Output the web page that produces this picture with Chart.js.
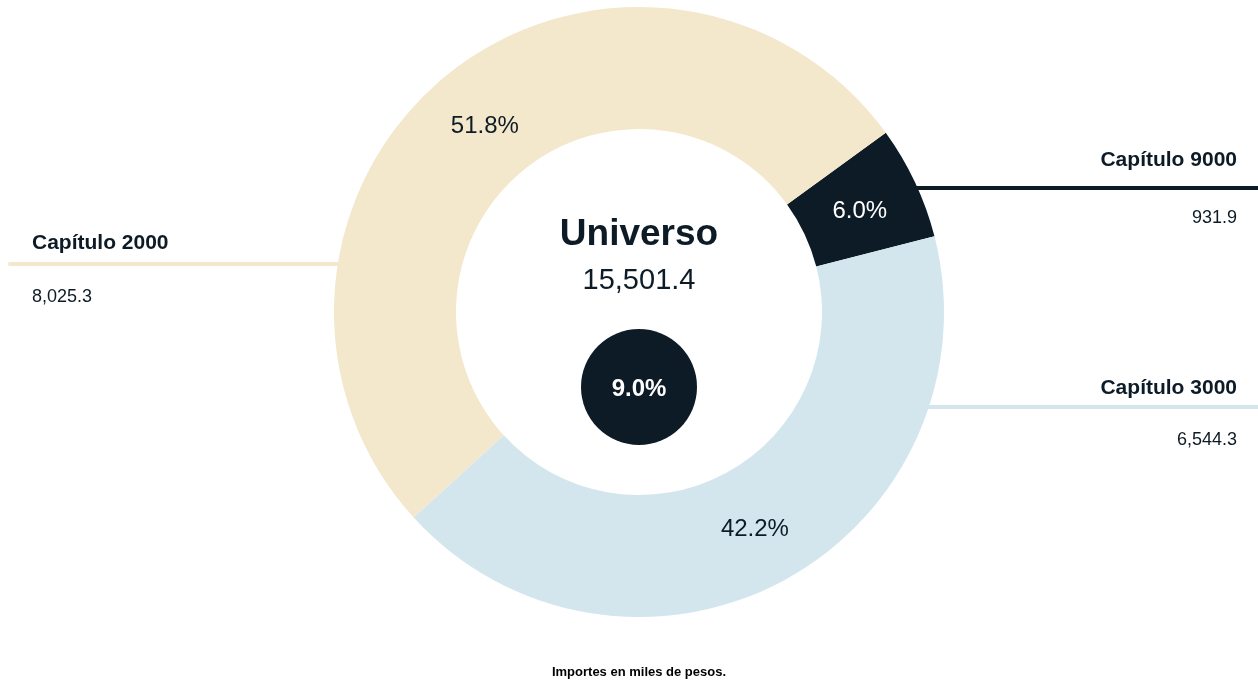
<!DOCTYPE html>
<html>
<head>
<meta charset="utf-8">
<script src="https://cdn.jsdelivr.net/npm/chart.js@4"></script>
<style>
  html, body { margin: 0; padding: 0; background: #fff; }
  #wrap { width: 1258px; height: 681px; position: relative; }
</style>
</head>
<body>
<div id="wrap"><canvas id="donutChart"></canvas></div>
<script>
// data
const categories = ["Capítulo 9000", "Capítulo 3000", "Capítulo 2000"];
const values = [931.9, 6544.3, 8025.3];
const valueLabels = ["931.9", "6,544.3", "8,025.3"];
const colors = ["#0d1b26", "#d3e6ee", "#f3e7cc"];
const totalLabel = "Universo";
const totalValue = "15,501.4";
const innerPct = "9.0%";
const footNote = "Importes en miles de pesos.";

const ink = "#0d1b26";
const font = "'Liberation Sans', Arial, sans-serif";

// leader line / label placement: y of line, side
const callouts = [
  { y: 188, side: "right", labelY: 160, valueY: 218 },
  { y: 407, side: "right", labelY: 388, valueY: 440 },
  { y: 264, side: "left", labelY: 243, valueY: 297 }
];

const donutExtras = {
  id: "donutExtras",
  afterDatasetsDraw(chart) {
    const ctx = chart.ctx;
    const meta = chart.getDatasetMeta(0);
    const arc0 = meta.data[0];
    const cx = arc0.x, cy = arc0.y, R = arc0.outerRadius;
    const total = values.reduce((a, b) => a + b, 0);
    const W = chart.width;

    ctx.save();
    // percent labels on slices
    meta.data.forEach((arc, i) => {
      const p = arc.tooltipPosition();
      ctx.fillStyle = i === 0 ? "#ffffff" : ink;
      ctx.font = "24px " + font;
      ctx.textAlign = "center";
      ctx.textBaseline = "middle";
      ctx.fillText((values[i] / total * 100).toFixed(1) + "%", p.x, p.y + 3);
    });

    // leader lines and labels
    callouts.forEach((c, i) => {
      const dx = Math.sqrt(R * R - (c.y - cy) * (c.y - cy));
      ctx.strokeStyle = colors[i];
      ctx.lineWidth = 4;
      ctx.lineCap = "round";
      ctx.beginPath();
      if (c.side === "right") {
        ctx.moveTo(cx + dx - 1, c.y);
        ctx.lineTo(W + 2, c.y);
      } else {
        ctx.moveTo(cx - dx + 1, c.y);
        ctx.lineTo(10, c.y);
      }
      ctx.stroke();

      ctx.fillStyle = ink;
      ctx.textBaseline = "middle";
      ctx.textAlign = c.side === "right" ? "right" : "left";
      const tx = c.side === "right" ? 1237 : 32;
      ctx.font = "bold 21px " + font;
      ctx.fillText(categories[i], tx, c.labelY);
      ctx.font = "18px " + font;
      ctx.fillText(valueLabels[i], tx, c.valueY);
    });

    // center text
    ctx.textAlign = "center";
    ctx.textBaseline = "middle";
    ctx.fillStyle = ink;
    ctx.font = "bold 37px " + font;
    ctx.fillText(totalLabel, cx, cy - 77);
    ctx.font = "29px " + font;
    ctx.fillText(totalValue, cx, cy - 31);

    // small inner circle
    ctx.beginPath();
    ctx.arc(cx, cy + 75, 58, 0, Math.PI * 2);
    ctx.fillStyle = ink;
    ctx.fill();
    ctx.fillStyle = "#ffffff";
    ctx.font = "bold 24px " + font;
    ctx.fillText(innerPct, cx, cy + 77);

    // footnote
    ctx.fillStyle = "#000";
    ctx.font = "bold 13px " + font;
    ctx.fillText(footNote, cx, 672);
    ctx.restore();
  }
};

new Chart(document.getElementById("donutChart"), {
  type: "doughnut",
  data: {
    labels: categories,
    datasets: [{
      data: values,
      backgroundColor: colors,
      borderWidth: 0,
      hoverOffset: 0
    }]
  },
  options: {
    responsive: true,
    maintainAspectRatio: false,
    animation: false,
    rotation: 54,
    cutout: "60%",
    layout: { padding: { top: 7, bottom: 64, left: 20, right: 0 } },
    plugins: {
      legend: { display: false },
      tooltip: { enabled: false }
    }
  },
  plugins: [donutExtras]
});
</script>
</body>
</html>
